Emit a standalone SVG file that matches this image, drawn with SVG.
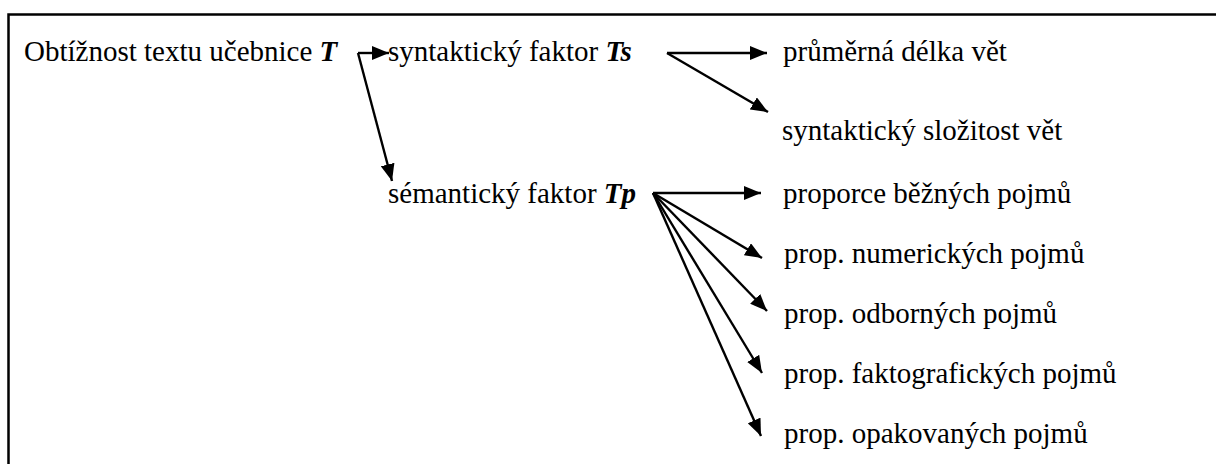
<svg xmlns="http://www.w3.org/2000/svg" width="1216" height="464" viewBox="0 0 1216 464">
<style>
.t{font-family:'Liberation Serif','Times New Roman','DejaVu Serif',serif;font-size:29px;fill:#000}
.b{font-weight:bold;font-style:italic}
.c{stroke:#000;stroke-width:2.4;fill:none}
</style>
<defs>
<marker id="ah" viewBox="0 0 17 14" refX="17" refY="7" markerWidth="17" markerHeight="14" markerUnits="userSpaceOnUse" orient="auto">
<path d="M0,0 L17,7 L0,14 Z" fill="#000"/>
</marker>
</defs>
<rect width="1216" height="464" fill="#fff"/>
<path d="M8.5,464 V14.5 H1216" fill="none" stroke="#000" stroke-width="2.5"/>
<g id="n-root"><text class="t" x="24" y="61">Obtížnost textu učebnice <tspan class="b">T</tspan></text></g>
<g id="n-ts"><text class="t" x="388" y="61">syntaktický faktor <tspan class="b">Ts</tspan></text></g>
<g id="n-tp"><text class="t" x="388" y="203">sémantický faktor <tspan class="b">Tp</tspan></text></g>
<g id="n-delka"><text class="t" x="783" y="61">průměrná délka vět</text></g>
<g id="n-slozitost"><text class="t" x="782" y="140">syntaktický složitost vět</text></g>
<g id="n-bezne"><text class="t" x="783" y="203">proporce běžných pojmů</text></g>
<g id="n-numer"><text class="t" x="784" y="263">prop. numerických pojmů</text></g>
<g id="n-odbor"><text class="t" x="784" y="323">prop. odborných pojmů</text></g>
<g id="n-fakto"><text class="t" x="784" y="383">prop. faktografických pojmů</text></g>
<g id="n-opak"><text class="t" x="784" y="443">prop. opakovaných pojmů</text></g>
<g id="connectors">
<path class="c" d="M358,53 H389" marker-end="url(#ah)"/>
<path class="c" d="M358,53 L392,181" marker-end="url(#ah)"/>
<path class="c" d="M667,53 H767" marker-end="url(#ah)"/>
<path class="c" d="M667,53 L768,112" marker-end="url(#ah)"/>
<path class="c" d="M653,193 H761" marker-end="url(#ah)"/>
<path class="c" d="M653,193 L762,258" marker-end="url(#ah)"/>
<path class="c" d="M653,193 L767,311" marker-end="url(#ah)"/>
<path class="c" d="M653,193 L762,373" marker-end="url(#ah)"/>
<path class="c" d="M653,193 L761,436" marker-end="url(#ah)"/>
</g>
</svg>
